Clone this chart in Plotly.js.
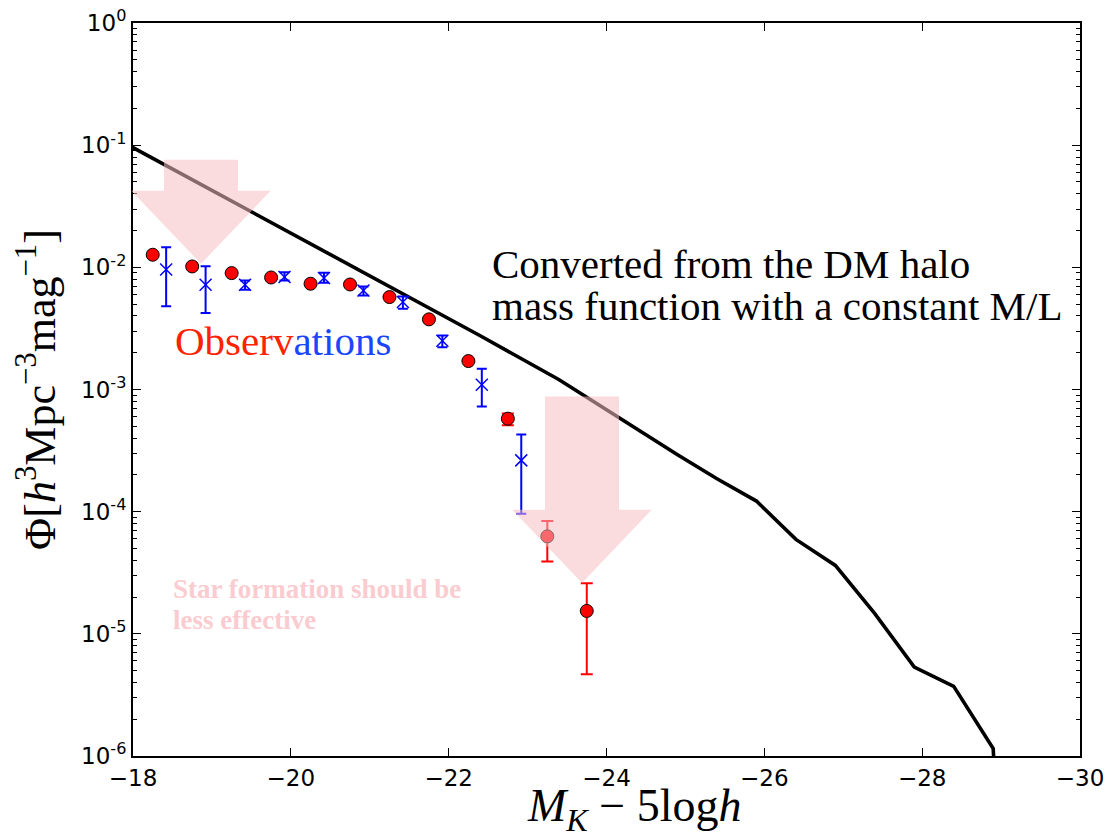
<!DOCTYPE html>
<html><head><meta charset="utf-8">
<script src="https://cdn.plot.ly/plotly-3.0.1.min.js"></script>
<style>html,body{margin:0;padding:0;background:#fff;} #chart{width:1107px;height:837px;}</style>
</head><body><div id="chart"></div>
<script>
// Model: converted from the DM halo mass function with constant M/L
const modelMag = [-17.9,-18.4,-18.9,-19.4,-19.9,-20.4,-20.9,-21.4,-21.9,-22.4,-22.9,-23.4,-23.9,-24.4,-24.9,-25.4,-25.9,-26.4,-26.9,-27.4,-27.9,-28.4,-28.9,-29.4];
const modelPhi = [0.1034,0.0692,0.0464,0.0311,0.02085,0.01396,0.00936,0.00627,0.00417,0.002756,0.00182,0.001203,7.51e-4,4.66e-4,2.92e-4,1.86e-4,1.221e-4,5.93e-5,3.63e-5,1.463e-5,5.35e-6,3.72e-6,1.15e-6,1e-12];

// Observations (red circles)
const redMag = [-18.25,-18.75,-19.25,-19.75,-20.25,-20.75,-21.25,-21.75,-22.25,-22.75,-23.25,-23.75];
const redPhi = [0.01268,0.01017,0.00897,0.00826,0.00734,0.00724,0.00571,0.00375,0.00171,0.000577,6.28e-5,1.54e-5];
const redHi  = [0.01268,0.01017,0.00897,0.00826,0.00734,0.00724,0.00571,0.00375,0.00171,6.37e-4,8.38e-5,2.59e-5];
const redLo  = [0.01268,0.01017,0.00897,0.00826,0.00734,0.00724,0.00571,0.00375,0.00171,5.09e-4,3.90e-5,4.66e-6];

// Observations (blue crosses)
const blueMag = [-18.42,-18.92,-19.42,-19.92,-20.42,-20.92,-21.42,-21.92,-22.42,-22.92];
const bluePhi = [0.00961,0.00720,0.00720,0.00834,0.00819,0.00647,0.00521,0.00251,0.001095,0.000263];
const blueHi  = [0.01463,0.01023,0.00781,0.00913,0.00903,0.00698,0.00578,0.00277,0.00148,0.000429];
const blueLo  = [0.00481,0.00422,0.00656,0.00781,0.00748,0.00589,0.00458,0.00222,0.000727,9.63e-5];

// Axis ticks
const yTickVals = [1e-6,1e-5,1e-4,1e-3,1e-2,1e-1,1];
const yTickText = ['10<sup>-6</sup>','10<sup>-5</sup>','10<sup>-4</sup>','10<sup>-3</sup>','10<sup>-2</sup>','10<sup>-1</sup>','10<sup>0</sup>'];
const xTickVals = [-18,-20,-22,-24,-26,-28,-30];
const xTickText = ['\u221218','\u221220','\u221222','\u221224','\u221226','\u221228','\u221230'];

const plusOf = (v, hi) => v.map((y,i) => hi[i]-y);
const minusOf = (v, lo) => v.map((y,i) => y-lo[i]);

const traces = [
  {x: modelMag, y: modelPhi, type:'scatter', mode:'lines', line:{color:'#000', width:3.6}, hoverinfo:'skip'},
  {x: blueMag, y: bluePhi, type:'scatter', mode:'markers',
   marker:{symbol:'x-thin-open', size:12, color:'#0000ff', line:{color:'#0000ff', width:1.5}},
   error_y:{type:'data', symmetric:false, array: plusOf(bluePhi, blueHi), arrayminus: minusOf(bluePhi, blueLo), color:'#0000ff', thickness:2, width:5}},
  {x: redMag, y: redPhi, type:'scatter', mode:'markers',
   marker:{symbol:'circle', size:13, color:'#ff0000', line:{color:'#000', width:1}},
   error_y:{type:'data', symmetric:false, array: plusOf(redPhi, redHi), arrayminus: minusOf(redPhi, redLo), color:'#ff0000', thickness:2, width:6}}
];

function arrowPath(sl, sr, top, base, hl, hr, ax, ay) {
  return `M${sl},${top} L${sr},${top} L${sr},${base} L${hr},${base} L${ax},${ay} L${hl},${base} L${sl},${base} Z`;
}

const serif = 'Liberation Serif, Times New Roman, serif';
const layout = {
  width:1107, height:837,
  margin:{l:133, r:27, t:22.5, b:81.3},
  paper_bgcolor:'#fff', plot_bgcolor:'#fff',
  showlegend:false,
  xaxis:{range:[-18,-30], tickmode:'array', tickvals:xTickVals, ticktext:xTickText,
         ticks:'inside', ticklen:8, tickwidth:1, tickcolor:'#000',
         showline:true, linewidth:2, linecolor:'#000', mirror:'allticks', showgrid:false, zeroline:false,
         tickfont:{family:'DejaVu Sans', size:23, color:'#000'}},
  yaxis:{type:'log', range:[-6,0], tickmode:'array', tickvals:yTickVals, ticktext:yTickText,
         ticks:'inside', ticklen:8, tickwidth:1, tickcolor:'#000',
         minor:{ticks:'inside', ticklen:4, tickwidth:1, tickcolor:'#000', dtick:'D1', showgrid:false},
         showline:true, linewidth:2, linecolor:'#000', mirror:'allticks', showgrid:false, zeroline:false,
         tickfont:{family:'DejaVu Sans', size:23, color:'#000'},
         title:{text:'\u03a6[<i>h</i><sup>3</sup>Mpc<sup>\u22123</sup>mag<sup>\u22121</sup>]', font:{family:serif, size:44, color:'#000'}, standoff:12}},
  shapes:[
    {type:'path', xref:'paper', yref:'paper', layer:'above', fillcolor:'rgb(245,190,195)', opacity:0.55, line:{width:0},
     path: arrowPath(0.0327,0.1109,0.8134,0.7711,-0.0018,0.1454,0.0718,0.6716)},
    {type:'path', xref:'paper', yref:'paper', layer:'above', fillcolor:'rgb(245,190,195)', opacity:0.55, line:{width:0},
     path: arrowPath(0.4351,0.5132,0.4906,0.3361,0.4005,0.5477,0.47415,0.2360)}
  ],
  annotations:[
    // x-axis title
    {xref:'paper', yref:'paper', x:0.530, y:-0.072, xanchor:'center', yanchor:'middle', showarrow:false,
     text:'<i>M</i><sub><i>K</i></sub>\u00a0\u2212\u00a05log<i>h</i>', font:{family:serif, size:46, color:'#000'}},
    {xref:'paper', yref:'paper', x:0.377, y:0.671, xanchor:'left', yanchor:'middle', showarrow:false,
     text:'Converted from the DM halo', font:{family:serif, size:41, color:'#000'}},
    {xref:'paper', yref:'paper', x:0.377, y:0.614, xanchor:'left', yanchor:'middle', showarrow:false,
     text:'mass function with a constant M/L', font:{family:serif, size:41, color:'#000'}},
    {xref:'paper', yref:'paper', x:0.042, y:0.566, xanchor:'left', yanchor:'middle', showarrow:false,
     text:'<span style="color:#ff2200">Observ</span><span style="color:#1a46ff">ations</span>', font:{family:serif, size:41, color:'#ff2200'}},
    {xref:'paper', yref:'paper', x:0.0405, y:0.2274, xanchor:'left', yanchor:'middle', showarrow:false,
     text:'<b>Star formation should be</b>', font:{family:serif, size:27, color:'rgb(250,204,208)'}},
    {xref:'paper', yref:'paper', x:0.0405, y:0.185, xanchor:'left', yanchor:'middle', showarrow:false,
     text:'<b>less effective</b>', font:{family:serif, size:27, color:'rgb(250,204,208)'}}
  ]
};

Plotly.newPlot('chart', traces, layout, {displayModeBar:false, staticPlot:true});
</script></body></html>
